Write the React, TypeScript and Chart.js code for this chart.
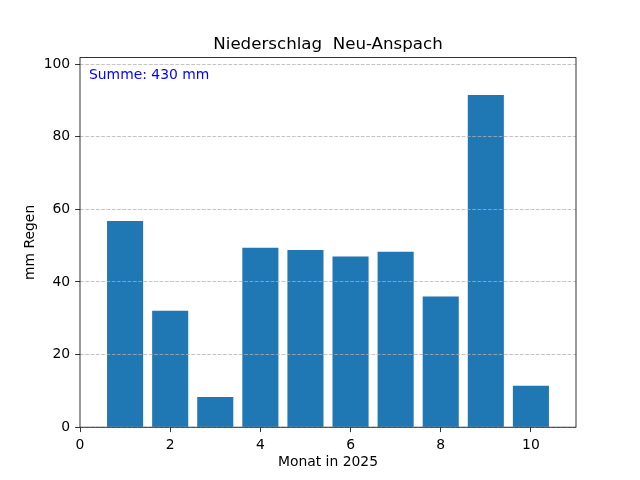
import React, { useEffect, useRef } from "react";
import { Chart, registerables } from "chart.js";

Chart.register(...registerables);

const months: number[] = [1, 2, 3, 4, 5, 6, 7, 8, 9, 10];
const rainMm: number[] = [56.8, 32.1, 8.3, 49.4, 48.8, 47.0, 48.3, 36.0, 91.5, 11.4];
const xTicks: number[] = [0, 2, 4, 6, 8, 10];
const yTicks: number[] = [0, 20, 40, 60, 80, 100];
const titleText = "Niederschlag  Neu-Anspach";
const sumText = "Summe: 430 mm";
const xLabel = "Monat in 2025";
const yLabel = "mm Regen";

const FONT = '"DejaVu Sans", "Liberation Sans", sans-serif';

export default function App() {
  const canvasRef = useRef<HTMLCanvasElement | null>(null);

  useEffect(() => {
    const canvas = canvasRef.current;
    if (!canvas) return;

    const decor = {
      id: "mplDecor",
      afterDraw(chart: any) {
        const { ctx, chartArea } = chart;
        const { left, right, top, bottom } = chartArea;
        ctx.save();
        // spines
        ctx.strokeStyle = "#000";
        ctx.lineWidth = 0.8;
        ctx.setLineDash([]);
        ctx.strokeRect(left, top, right - left, bottom - top);
        // title
        ctx.fillStyle = "#000";
        ctx.font = `16.67px ${FONT}`;
        ctx.textAlign = "center";
        ctx.textBaseline = "alphabetic";
        ctx.fillText(titleText, (left + right) / 2, top - 8.3);
        // sum annotation
        ctx.fillStyle = "#0000ff";
        ctx.font = `13.9px ${FONT}`;
        ctx.textAlign = "left";
        ctx.fillText(sumText, left + 9, 79);
        ctx.restore();
      },
    };

    const chart = new Chart(canvas, {
      type: "bar",
      data: {
        datasets: [
          {
            data: months.map((m, i) => ({ x: m, y: rainMm[i] })),
            backgroundColor: "#1f77b4",
            borderWidth: 0,
            barPercentage: 0.8,
            categoryPercentage: 1.0,
          },
        ],
      },
      options: {
        animation: false,
        responsive: false,
        devicePixelRatio: 1,
        layout: { padding: { top: 57.6, right: 64, left: 0, bottom: 0 } },
        plugins: {
          legend: { display: false },
          tooltip: { enabled: false },
          title: { display: false },
        },
        scales: {
          x: {
            type: "linear",
            min: 0,
            max: 11,
            offset: false,
            afterBuildTicks: (scale: any) => {
              scale.ticks = xTicks.map((v) => ({ value: v }));
            },
            afterFit: (scale: any) => {
              scale.height = 52.8;
            },
            grid: {
              offset: false,
              drawOnChartArea: false,
              drawTicks: true,
              tickLength: 4.9,
              tickWidth: 0.8,
              tickColor: "#000",
              lineWidth: 0.8,
              color: "#000",
            },
            border: { display: false },
            ticks: {
              color: "#000",
              font: { family: FONT, size: 13.9 },
              padding: 4.9,
              maxRotation: 0,
              autoSkip: false,
            },
            title: {
              display: true,
              text: xLabel,
              color: "#000",
              font: { family: FONT, size: 13.9 },
              padding: { top: 0, bottom: 9.7 },
            },
          },
          y: {
            type: "linear",
            min: 0,
            max: 101.8,
            afterBuildTicks: (scale: any) => {
              scale.ticks = yTicks.map((v) => ({ value: v }));
            },
            afterFit: (scale: any) => {
              scale.width = 80;
            },
            grid: {
              z: 1,
              drawOnChartArea: true,
              drawTicks: true,
              tickLength: 4.9,
              tickWidth: 0.8,
              tickColor: "#000",
              tickBorderDash: [],
              lineWidth: 0.8,
              color: "rgba(176,176,176,0.95)",
            },
            border: { display: false, dash: [3.7, 1.6] },
            ticks: {
              color: "#000",
              font: { family: FONT, size: 13.9 },
              padding: 4.9,
              autoSkip: false,
            },
            title: {
              display: true,
              text: yLabel,
              color: "#000",
              font: { family: FONT, size: 13.9 },
              padding: { top: 21.7, bottom: 0 },
            },
          },
        },
      } as any,
      plugins: [decor],
    });

    return () => {
      chart.destroy();
    };
  }, []);

  return (
    <div style={{ position: "fixed", left: 0, top: 0, width: 640, height: 480, background: "#fff" }}>
      <canvas ref={canvasRef} width={640} height={480} style={{ display: "block", width: 640, height: 480 }} />
    </div>
  );
}
